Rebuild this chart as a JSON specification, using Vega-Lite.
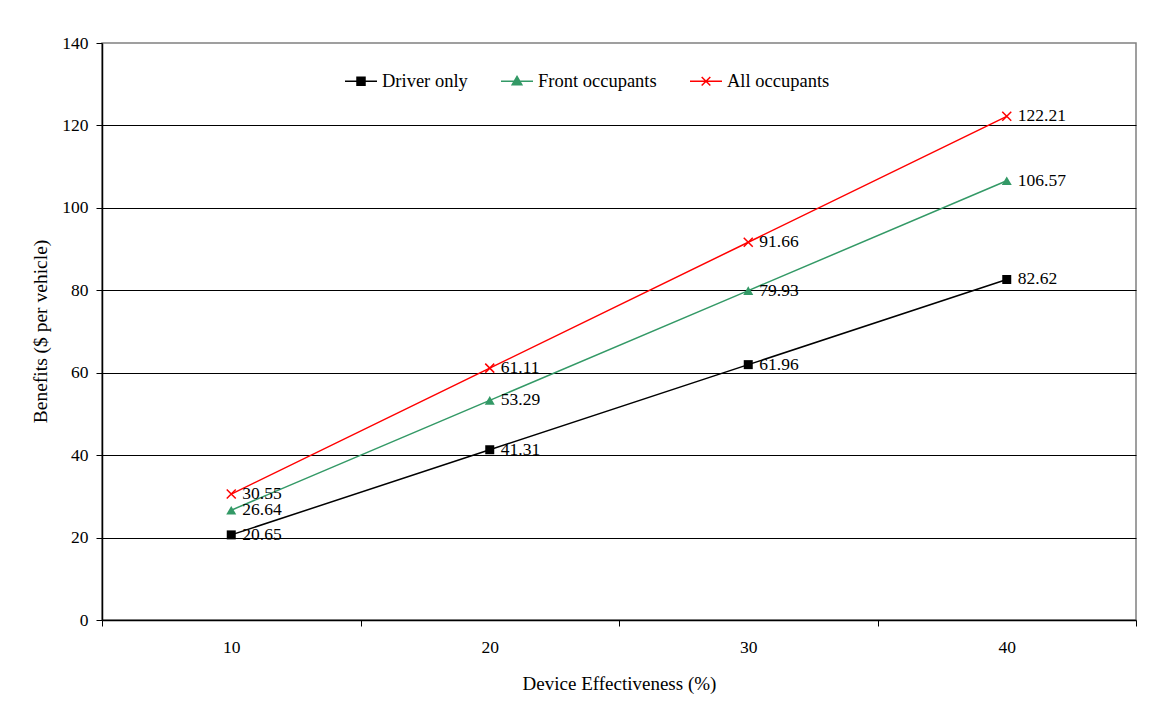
{
  "$schema": "https://vega.github.io/schema/vega-lite/v6.json",
  "width": 1034,
  "height": 577,
  "autosize": {"type": "none"},
  "padding": {"left": 102, "top": 43, "right": 18, "bottom": 91},
  "background": "white",
  "config": {
    "font": "Liberation Serif",
    "view": {"stroke": "#808080", "strokeWidth": 1.5},
    "axis": {
      "labelFont": "Liberation Serif",
      "titleFont": "Liberation Serif",
      "labelColor": "black",
      "titleColor": "black",
      "titleFontWeight": "normal",
      "domainColor": "black",
      "tickColor": "black"
    }
  },
  "data": {
    "values": [
      {"series": "Driver only", "effectiveness": 10, "benefit": 20.65},
      {"series": "Driver only", "effectiveness": 20, "benefit": 41.31},
      {"series": "Driver only", "effectiveness": 30, "benefit": 61.96},
      {"series": "Driver only", "effectiveness": 40, "benefit": 82.62},
      {"series": "Front occupants", "effectiveness": 10, "benefit": 26.64},
      {"series": "Front occupants", "effectiveness": 20, "benefit": 53.29},
      {"series": "Front occupants", "effectiveness": 30, "benefit": 79.93},
      {"series": "Front occupants", "effectiveness": 40, "benefit": 106.57},
      {"series": "All occupants", "effectiveness": 10, "benefit": 30.55},
      {"series": "All occupants", "effectiveness": 20, "benefit": 61.11},
      {"series": "All occupants", "effectiveness": 30, "benefit": 91.66},
      {"series": "All occupants", "effectiveness": 40, "benefit": 122.21}
    ]
  },
  "layer": [
    {
      "mark": {"type": "point", "filled": true, "opacity": 0, "strokeWidth": 1.5},
      "encoding": {
        "x": {
          "field": "effectiveness", "type": "quantitative",
          "scale": {"domain": [5, 45], "nice": false, "zero": false},
          "axis": {
            "orient": "bottom",
            "values": [10, 20, 30, 40],
            "ticks": false,
            "tickSize": 0,
            "grid": false,
            "labelFontSize": 17.5,
            "labelPadding": 18,
            "title": "Device Effectiveness (%)",
            "titleFontSize": 19,
            "titleY": 63,
            "titleBaseline": "middle",
            "domainColor": "black",
            "domainWidth": 1.5
          }
        },
        "y": {
          "field": "benefit", "type": "quantitative",
          "scale": {"domain": [0, 140], "nice": false},
          "axis": {
            "values": [0, 20, 40, 60, 80, 100, 120, 140],
            "title": "Benefits ($ per vehicle)",
            "titleFontSize": 19.5,
            "labelFontSize": 17.5,
            "tickSize": 6,
            "labelPadding": 8,
            "grid": true,
            "gridColor": "black",
            "gridWidth": 1,
            "gridOpacity": {"condition": {"test": "datum.value === 0 || datum.value === 140", "value": 0}, "value": 1},
            "titleX": -62,
            "titleY": 288,
            "titleAngle": 270,
            "titleBaseline": "middle",
            "titleAlign": "center",
            "domainWidth": 1.5
          }
        },
        "color": {
          "field": "series", "type": "nominal",
          "scale": {"domain": ["Driver only", "Front occupants", "All occupants"], "range": ["#000000", "#339966", "#ff0000"]},
          "legend": {
            "orient": "none",
            "legendX": 242,
            "legendY": 21,
            "direction": "horizontal",
            "title": null,
            "labelFont": "Liberation Serif",
            "labelFontSize": 18.5,
            "labelColor": "black",
            "symbolSize": 1024,
            "symbolOpacity": 1,
            "labelOffset": 4,
            "columnPadding": 30,
            "symbolStrokeWidth": 1.5
          }
        },
        "stroke": {
          "field": "series", "type": "nominal",
          "scale": {"domain": ["Driver only", "Front occupants", "All occupants"], "range": ["#000000", "#339966", "#ff0000"]}
        },
        "shape": {
          "field": "series", "type": "nominal",
          "scale": {"domain": ["Driver only", "Front occupants", "All occupants"], "range": ["M-1,0H1M-0.25,-0.25H0.25V0.25H-0.25Z", "M-1,0H1M0,-0.3L0.3,0.22L-0.3,0.22Z", "M-1,0H1M-0.27,-0.27L0.27,0.27M-0.27,0.27L0.27,-0.27"]}
        }
      }
    },
    {
      "mark": {"type": "line", "strokeWidth": 1.5},
      "encoding": {
        "x": {"field": "effectiveness", "type": "quantitative", "axis": null},
        "y": {"field": "benefit", "type": "quantitative"},
        "color": {"field": "series", "type": "nominal"}
      }
    },
    {
      "transform": [{"filter": "datum.series === 'Driver only'"}],
      "mark": {"type": "point", "shape": "square", "filled": true, "opacity": 1, "size": 81, "strokeWidth": 1},
      "encoding": {
        "x": {
          "field": "effectiveness", "type": "quantitative",
          "axis": {
            "orient": "bottom",
            "values": [5, 15, 25, 35, 45],
            "labels": false,
            "ticks": true,
            "tickSize": 6,
            "tickWidth": 1,
            "domain": false,
            "grid": false,
            "title": null
          }
        },
        "y": {"field": "benefit", "type": "quantitative"},
        "color": {"field": "series", "type": "nominal"}
      }
    },
    {
      "transform": [{"filter": "datum.series === 'Front occupants'"}],
      "mark": {"type": "point", "shape": "triangle-up", "filled": true, "opacity": 1, "size": 100},
      "encoding": {
        "x": {"field": "effectiveness", "type": "quantitative", "axis": null},
        "y": {"field": "benefit", "type": "quantitative"},
        "color": {"field": "series", "type": "nominal"}
      }
    },
    {
      "transform": [{"filter": "datum.series === 'All occupants'"}],
      "mark": {"type": "point", "shape": "M-1,-1L1,1M-1,1L1,-1", "filled": false, "opacity": 1, "size": 81, "strokeWidth": 1.5},
      "encoding": {
        "x": {"field": "effectiveness", "type": "quantitative", "axis": null},
        "y": {"field": "benefit", "type": "quantitative"},
        "color": {"field": "series", "type": "nominal"}
      }
    },
    {
      "mark": {"type": "text", "align": "left", "baseline": "middle", "dx": 11, "fontSize": 17.5, "font": "Liberation Serif", "color": "black"},
      "encoding": {
        "x": {"field": "effectiveness", "type": "quantitative", "axis": null},
        "y": {"field": "benefit", "type": "quantitative"},
        "text": {"field": "benefit", "type": "quantitative", "format": ".2f"}
      }
    }
  ],
  "resolve": {"axis": {"x": "independent"}}
}
